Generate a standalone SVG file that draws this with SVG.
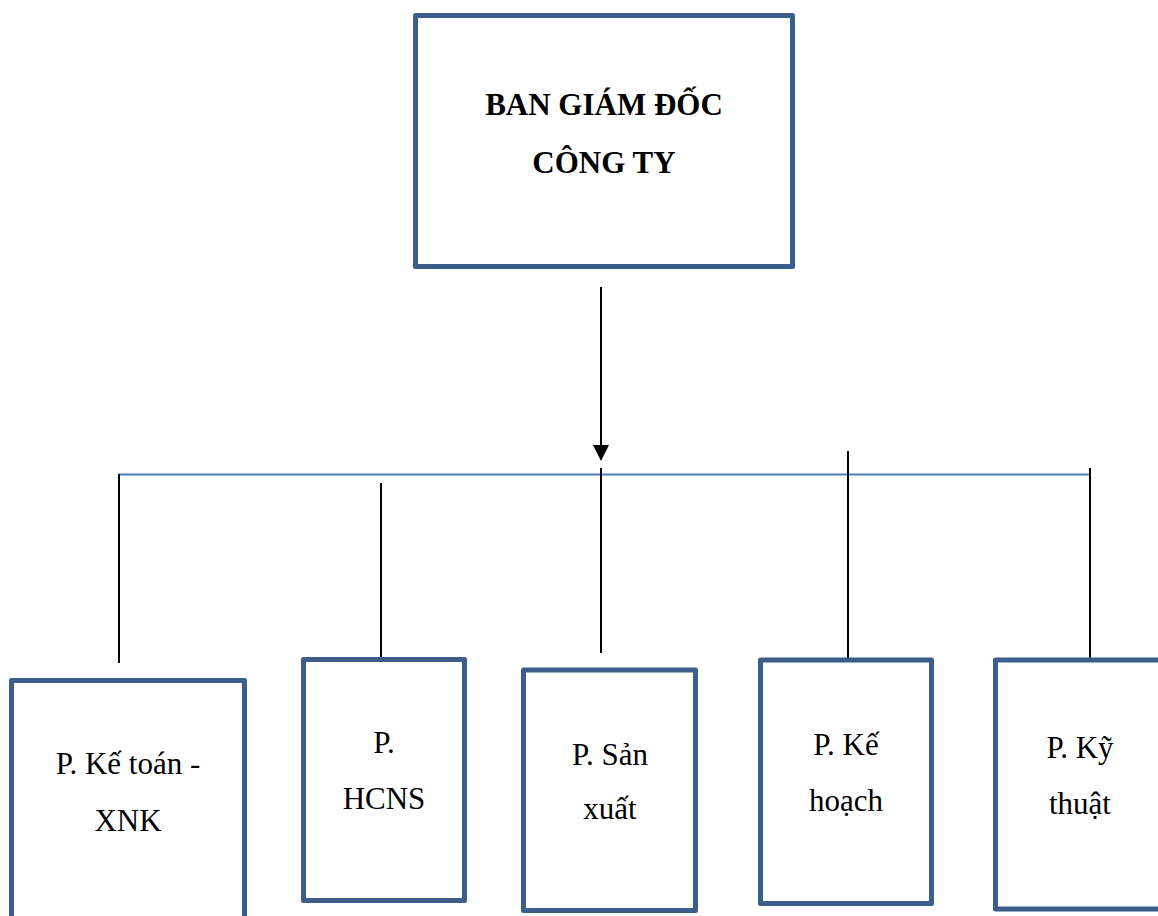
<svg xmlns="http://www.w3.org/2000/svg" width="1158" height="916" viewBox="0 0 1158 916">
<style>
.box{fill:#fff;stroke:#3B5E8C;stroke-width:5;stroke-linejoin:round}
.t{font-family:"Liberation Serif","Times New Roman",serif;font-size:31px;fill:#000;text-anchor:middle}
.tb{font-family:"Liberation Serif","Times New Roman",serif;font-size:31px;font-weight:bold;fill:#000;text-anchor:middle}
.c{stroke:#000;stroke-width:2;fill:none}
.bus{stroke:#4A7EBB;stroke-width:2;fill:none}
</style>
<defs>
<marker id="ah" markerWidth="8" markerHeight="8" refX="8" refY="4" orient="auto" markerUnits="userSpaceOnUse" viewBox="0 0 8 8">
<path d="M0,0 L8,4 L0,8 Z" fill="#000"/>
</marker>
</defs>
<rect width="1158" height="916" fill="#fff"/>
<g id="connectors">
<line class="c" x1="601" y1="287" x2="601" y2="446" stroke-width="2.5"/>
<polygon points="593,445 609,445 601,461" fill="#000"/>
<line class="bus" x1="119" y1="474.5" x2="1090" y2="474.5"/>
<line class="c" x1="119" y1="474" x2="119" y2="663"/>
<line class="c" x1="381" y1="483" x2="381" y2="667"/>
<line class="c" x1="601" y1="468" x2="601" y2="653"/>
<line class="c" x1="848" y1="451" x2="848" y2="660"/>
<line class="c" x1="1090" y1="468" x2="1090" y2="660"/>
</g>
<g id="n-bgd">
<rect class="box" x="415.5" y="15.5" width="377" height="251"/>
<text class="tb" x="604" y="115">BAN GIÁM ĐỐC</text>
<text class="tb" x="604" y="173">CÔNG TY</text>
</g>
<g id="n-ketoan">
<rect class="box" x="11.5" y="680.5" width="233" height="250"/>
<text class="t" x="128" y="774">P. Kế toán -</text>
<text class="t" x="128" y="831">XNK</text>
</g>
<g id="n-hcns">
<rect class="box" x="303.5" y="659.5" width="161" height="241"/>
<text class="t" x="384" y="753">P.</text>
<text class="t" x="384" y="809">HCNS</text>
</g>
<g id="n-sanxuat">
<rect class="box" x="523.5" y="670" width="172" height="240.5"/>
<text class="t" x="610" y="765">P. Sản</text>
<text class="t" x="610" y="819">xuất</text>
</g>
<g id="n-kehoach">
<rect class="box" x="760.5" y="660" width="171" height="243.5"/>
<text class="t" x="846" y="755">P. Kế</text>
<text class="t" x="846" y="811">hoạch</text>
</g>
<g id="n-kythuat">
<rect class="box" x="995.5" y="660" width="172" height="249"/>
<text class="t" x="1080" y="758">P. Kỹ</text>
<text class="t" x="1080" y="814">thuật</text>
</g>
</svg>
